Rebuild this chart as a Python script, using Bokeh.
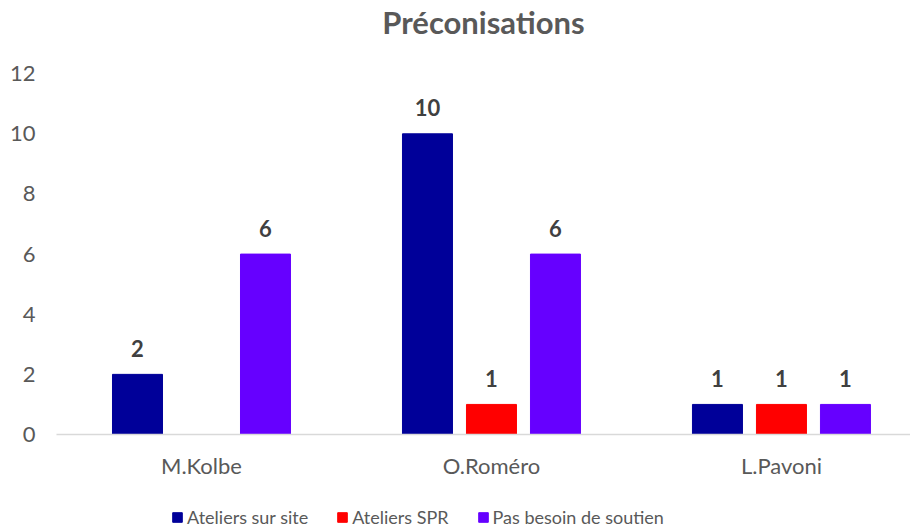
from bokeh.plotting import figure
from bokeh.layouts import column
from bokeh.models import Range1d, FixedTicker, ColumnDataSource, Legend, LegendItem
from bokeh.core.properties import value
from bokeh.embed import file_html
from bokeh.resources import INLINE

categories = ["M.Kolbe", "O.Roméro", "L.Pavoni"]
series_names = ["Ateliers sur site", "Ateliers SPR", "Pas besoin de soutien"]
ateliers_sur_site = [2, 10, 1]
ateliers_spr = [None, 1, 1]
pas_besoin = [6, 6, 1]
colors = ["#000099", "#FF0000", "#6600FF"]
y_ticks = [0, 2, 4, 6, 8, 10, 12]

FONT = "Lato"
centers = [i + 0.5 for i in range(len(categories))]
offsets = [-0.2207, 0.0, 0.2207]
bar_w = 0.1724

p = figure(width=910, height=500, output_backend="svg", toolbar_location=None,
           x_range=Range1d(0, 2.945), y_range=Range1d(0, 13.07),
           min_border_left=56, min_border_right=0, min_border_top=38, min_border_bottom=66)
p.title.text = "Préconisations"
p.title.align = "center"
p.title.text_font = FONT
p.title.text_font_size = "31px"
p.title.text_font_style = "bold"
p.title.text_color = "#595959"
p.title.standoff = 1
p.outline_line_color = None
p.xgrid.visible = False
p.ygrid.visible = False

p.yaxis.ticker = FixedTicker(ticks=y_ticks)
p.yaxis.axis_line_color = None
p.yaxis.major_tick_line_color = None
p.yaxis.minor_tick_line_color = None
p.yaxis.major_label_standoff = 15
p.yaxis.major_label_text_font = FONT
p.yaxis.major_label_text_font_size = "22px"
p.yaxis.major_label_text_color = "#595959"

p.xaxis.ticker = FixedTicker(ticks=centers)
p.xaxis.major_label_overrides = {c: n for c, n in zip(centers, categories)}
p.xaxis.axis_line_color = "#D9D9D9"
p.xaxis.axis_line_width = 1.5
p.xaxis.major_tick_line_color = None
p.xaxis.minor_tick_line_color = None
p.xaxis.major_label_standoff = 11
p.xaxis.major_label_text_font = FONT
p.xaxis.major_label_text_font_size = "22px"
p.xaxis.major_label_text_color = "#595959"

# legend strip (separate small figure holding the legend)
lf = figure(width=910, height=28, output_backend="svg", toolbar_location=None,
            x_range=Range1d(0, 1), y_range=Range1d(0, 1),
            min_border_left=0, min_border_right=0, min_border_top=0, min_border_bottom=0)
lf.axis.visible = False
lf.grid.visible = False
lf.outline_line_color = None

items = []
for vals, off, col, name in zip([ateliers_sur_site, ateliers_spr, pas_besoin], offsets, colors, series_names):
    xs, ys, labels = [], [], []
    for c, v in zip(centers, vals):
        if v is None:
            continue
        xs.append(c + off)
        ys.append(v)
        labels.append(str(v))
    src = ColumnDataSource(dict(x=xs, top=ys, label=labels))
    p.vbar(x="x", top="top", bottom=0, width=bar_w, source=src, fill_color=col, line_color=col)
    p.text(x="x", y="top", text="label", source=src, text_align="center", text_baseline="alphabetic",
           y_offset=-26, text_font=value(FONT), text_font_size="22px", text_font_style="bold",
           text_color="#404040")
    # legend-only swatch renderer (no visible mark: NaN position)
    lr = lf.vbar(x=[float("nan")], top=[float("nan")], width=0.1, fill_color=col, line_color=col)
    items.append(LegendItem(label=name, renderers=[lr]))

legend = Legend(items=items, orientation="horizontal", location=(115, 0),
                label_text_font=FONT, label_text_font_size="18px", label_text_color="#595959",
                glyph_width=12, glyph_height=12, spacing=28, label_standoff=4,
                border_line_color=None, background_fill_alpha=0, margin=0, padding=4)
lf.add_layout(legend, "center")

layout = column(p, lf, spacing=0)
open("out.html", "w").write(file_html(layout, INLINE))
